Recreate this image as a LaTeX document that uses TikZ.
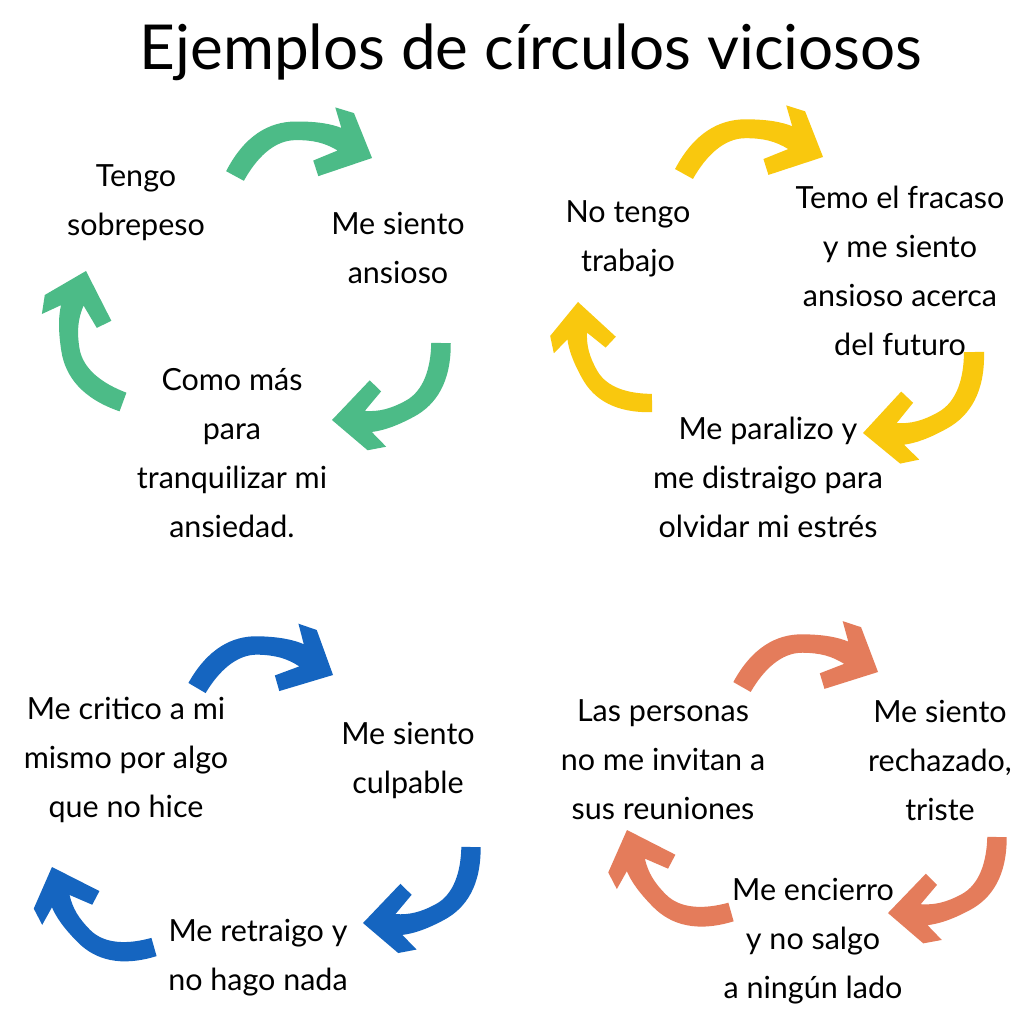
\documentclass[tikz,border=0pt]{standalone}
\usepackage{fontspec}
\setmainfont{Lato}
\usetikzlibrary{calc}
\definecolor{cgreen}{HTML}{4CBB87}
\definecolor{cyellow}{HTML}{F9C80E}
\definecolor{cblue}{HTML}{1565C0}
\definecolor{corange}{HTML}{E47C5B}
\tikzset{
  txt/.style={align=center, font=\fontsize{30.5}{49}\selectfont, text=black, inner sep=0pt},
  titletxt/.style={font=\fontsize{62}{64}\selectfont, text=black, inner sep=0pt},
  pics/carrow/.style={code={
    \fill[#1] (-9,-5) .. controls (10,-41) and (35,-55) .. (62,-55)
      .. controls (85,-55) and (99,-52) .. (109,-48) -- (103,-69) -- (122,-63)
      -- (140,-17) -- (85,1) -- (80,-15) -- (105,-25)
      .. controls (92,-33) and (80,-36) .. (62,-36)
      .. controls (40,-36) and (22,-18) .. (9,5) -- cycle;
  }},
}
\newcommand\cycarrow[3]{\path let \p1=($(#3)-(#2)$), \n1={atan2(\y1,\x1)}, \n2={veclen(\x1,\y1)} in (#2) pic[rotate=\n1-6.92, scale=\n2/141]{carrow=#1};}
\begin{document}
\begin{tikzpicture}[x=1pt,y=-1pt]
\fill[white] (0,0) rectangle (1024,1024);
\useasboundingbox (0,0) rectangle (1024,1024);
\node[titletxt] (title) at (531,52) {Ejemplos de círculos viciosos};
% green cycle
\coordinate (gAt) at (235,176); \coordinate (gAh) at (372,158);
\coordinate (gBt) at (441,343); \coordinate (gBh) at (332,420);
\coordinate (gCt) at (123,402); \coordinate (gCh) at (86,271);
\cycarrow{cgreen}{gAt}{gAh}
\cycarrow{cgreen}{gBt}{gBh}
\cycarrow{cgreen}{gCt}{gCh}
\node[txt] (g1) at (136,203) {Tengo\\sobrepeso};
\node[txt] (g2) at (398,248) {Me siento\\ansioso};
\node[txt] (g3) at (232,453) {Como más\\para\\tranquilizar mi\\ansiedad.};
% yellow cycle
\coordinate (yAt) at (684,174); \coordinate (yAh) at (823,157);
\coordinate (yBt) at (974,352); \coordinate (yBh) at (863,433);
\coordinate (yCt) at (652,403); \coordinate (yCh) at (578,302);
\cycarrow{cyellow}{yAt}{yAh}
\cycarrow{cyellow}{yBt}{yBh}
\cycarrow{cyellow}{yCt}{yCh}
\node[txt] (y1) at (628,239) {No tengo\\trabajo};
\node[txt] (y2) at (900,271) {Temo el fracaso\\y me siento\\ansioso acerca\\del futuro};
\node[txt] (y3) at (768,477) {Me paralizo y\\me distraigo para\\olvidar mi estrés};
% blue cycle
\coordinate (bAt) at (197,688); \coordinate (bAh) at (333,675);
\coordinate (bBt) at (471,847); \coordinate (bBh) at (363,923);
\coordinate (bCt) at (154,947); \coordinate (bCh) at (52,867);
\cycarrow{cblue}{bAt}{bAh}
\cycarrow{cblue}{bBt}{bBh}
\cycarrow{cblue}{bCt}{bCh}
\node[txt] (b1) at (126,760) {Me critico a mi\\mismo por algo\\que no hice};
\node[txt] (b2) at (408,760) {Me siento\\culpable};
\node[txt] (b3) at (258,958) {Me retraigo y\\no hago nada};
% orange cycle
\coordinate (oAt) at (742,687); \coordinate (oAh) at (878,672);
\coordinate (oBt) at (997,837); \coordinate (oBh) at (888,913);
\coordinate (oCt) at (731,912); \coordinate (oCh) at (627,830);
\cycarrow{corange}{oAt}{oAh}
\cycarrow{corange}{oBt}{oBh}
\cycarrow{corange}{oCt}{oCh}
\node[txt] (o1) at (663,760) {Las personas\\no me invitan a\\sus reuniones};
\node[txt] (o2) at (940,760) {Me siento\\rechazado,\\triste};
\node[txt] (o3) at (813,941) {Me encierro\\y no salgo\\a ningún lado};
\end{tikzpicture}
\end{document}
